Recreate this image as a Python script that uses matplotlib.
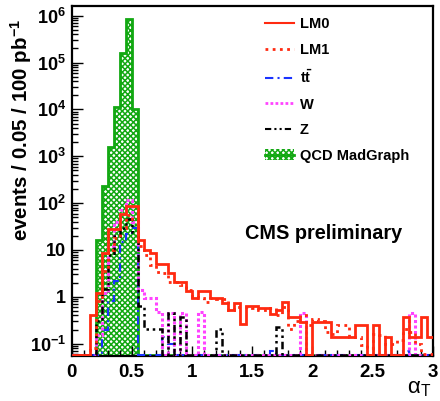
import numpy as np
import matplotlib
matplotlib.use("Agg")
import matplotlib.pyplot as plt
from matplotlib.patches import Patch
from matplotlib.lines import Line2D
from matplotlib.ticker import FixedLocator, MultipleLocator, LogLocator, NullFormatter

plt.rcParams['font.family'] = ['Liberation Sans', 'DejaVu Sans']
plt.rcParams['mathtext.fontset'] = 'custom'
plt.rcParams['mathtext.rm'] = 'Liberation Sans'
plt.rcParams['mathtext.bf'] = 'Liberation Sans:bold'
plt.rcParams['mathtext.it'] = 'Liberation Sans:italic'
plt.rcParams['mathtext.default'] = 'bf'
plt.rcParams['hatch.linewidth'] = 1.1

# ---- data: 60 bins of width 0.05 from 0 to 3 ----
bin_width = 0.05
n_bins = 60

qcd = [0, 0, 0, 0, 16, 230, 1550, 11000, 162000, 870000,
       10000, 0, 0, 0, 0, 0, 0, 0, 0, 0,
       0, 0, 0, 0, 0, 0, 0, 0, 0, 0,
       0, 0, 0, 0, 0, 0, 0, 0, 0, 0,
       0, 0, 0, 0, 0, 0, 0, 0, 0, 0,
       0, 0, 0, 0, 0, 0, 0, 0, 0, 0]

lm0 = [0, 0, 0, 0.4, 1.2, 8.5, 28, 28, 58, 85,
       85, 16, 10, 8.8, 5.0, 5.0, 3.2, 2.1, 2.1, 1.3,
       0.93, 1.3, 1.3, 0.93, 0.93, 0.73, 0.52, 0.73, 0.26, 0.65,
       0.65, 0.57, 0.57, 0.44, 0.52, 0.79, 0.37, 0.37, 0.29, 0,
       0.29, 0.29, 0.29, 0.14, 0.14, 0.14, 0.14, 0.25, 0.25, 0,
       0.25, 0, 0.14, 0, 0, 0.37, 0.14, 0.14, 0.37, 0.14]

lm1 = [0, 0, 0, 0.08, 0.8, 3.5, 10, 18, 30, 55,
       45, 12, 7.8, 4.8, 3.4, 3.2, 2.1, 2.1, 1.8, 1.4,
       1.0, 0.93, 0.79, 0.93, 0.9, 0.88, 0.52, 0.6, 0.62, 0.6,
       0.57, 0.52, 0.52, 0.57, 0.41, 0.62, 0.21, 0.3, 0.41, 0.25,
       0.33, 0.3, 0.18, 0.16, 0.25, 0.25, 0.14, 0.14, 0.093, 0.08,
       0.16, 0.15, 0.1, 0.1, 0.12, 0.21, 0.18, 0.1, 0.06, 0.06]

ttbar = [0, 0, 0, 0, 0, 0.2, 0.8, 2.2, 15, 22,
         30, 0, 0, 0, 0, 0.14, 0.1, 0, 0, 0,
         0, 0, 0, 0, 0, 0, 0, 0, 0, 0,
         0, 0, 0, 0.07, 0, 0, 0, 0, 0, 0,
         0, 0, 0, 0, 0, 0, 0, 0, 0, 0,
         0, 0, 0, 0, 0, 0.07, 0, 0, 0, 0]

wjets = [0, 0, 0, 0, 0.15, 1.2, 12, 40, 71, 117,
         40, 1.4, 0.93, 0.93, 0.48, 0, 0.45, 0, 0.45, 0,
         0, 0.48, 0, 0, 0, 0, 0, 0, 0, 0,
         0, 0, 0, 0, 0, 0, 0, 0, 0.45, 0,
         0, 0, 0, 0, 0, 0, 0, 0, 0, 0,
         0, 0, 0, 0, 0, 0, 0.45, 0, 0, 0]

zjets = [0, 0, 0, 0, 0.3, 1.5, 8, 20, 30, 45,
         24, 0.63, 0.21, 0.21, 0.21, 0, 0.45, 0, 0.37, 0,
         0, 0, 0, 0, 0.21, 0, 0, 0, 0, 0,
         0, 0, 0, 0, 0.23, 0, 0, 0, 0, 0,
         0, 0, 0, 0, 0, 0, 0, 0, 0, 0,
         0, 0, 0, 0, 0, 0, 0, 0, 0, 0]

x_ticks = [0, 0.5, 1, 1.5, 2, 2.5, 3]
x_tick_labels = ['0', '0.5', '1', '1.5', '2', '2.5', '3']
y_ticks = [1e-1, 1, 10, 1e2, 1e3, 1e4, 1e5, 1e6]
y_tick_labels = ['$10^{-1}$', '1', '10', '$10^{2}$', '$10^{3}$', '$10^{4}$', '$10^{5}$', '$10^{6}$']

ymin, ymax = 0.0543, 1.58e6
edges = np.arange(n_bins + 1) * bin_width

def floor(v):
    a = np.asarray(v, dtype=float)
    return np.where(a > 0, a, ymin * 1.03)

fig = plt.figure(figsize=(4.4, 4.01), dpi=100)
ax = fig.add_axes([0.1625, 0.112, 0.8215, 0.872])
ax.set_yscale('log')

green = '#12a812'
ax.stairs(floor(qcd), edges, fill=True, baseline=ymin * 1.03, facecolor='white',
          edgecolor=green, hatch='xxxxxx', linewidth=0, zorder=1)
ax.stairs(floor(qcd), edges, baseline=None, color=green, linewidth=2, zorder=2)

red = '#ff2a10'
ax.stairs(floor(lm0), edges, baseline=None, color=red, linewidth=2, zorder=5)
ax.stairs(floor(lm1), edges, baseline=None, color=red, linewidth=2,
          linestyle=(0, (1, 1.6)), zorder=4)
ax.stairs(floor(ttbar), edges, baseline=None, color='#1a33ff', linewidth=1.5,
          linestyle=(0, (4, 2, 1, 2)), zorder=3)
ax.stairs(floor(wjets), edges, baseline=None, color='#ff44ff', linewidth=2.2,
          linestyle=(0, (1, 0.8)), zorder=3)
ax.stairs(floor(zjets), edges, baseline=None, color='black', linewidth=1.8,
          linestyle=(0, (3, 1.5, 1, 1.5, 1, 1.5)), zorder=3)

ax.set_xlim(0, 3)
ax.set_ylim(ymin, ymax)

ax.xaxis.set_major_locator(FixedLocator(x_ticks))
ax.set_xticklabels(x_tick_labels)
ax.xaxis.set_minor_locator(MultipleLocator(0.1))
ax.yaxis.set_major_locator(FixedLocator(y_ticks))
ax.set_yticklabels(y_tick_labels)
ax.yaxis.set_minor_locator(LogLocator(base=10, subs=np.arange(2, 10)))
ax.yaxis.set_minor_formatter(NullFormatter())

ax.tick_params(axis='both', which='both', direction='in', top=False, right=False)
ax.tick_params(axis='y', which='major', length=8, width=1, labelsize=13, pad=4)
ax.tick_params(axis='y', which='minor', length=4, width=1)
ax.tick_params(axis='x', which='major', length=7, width=1, labelsize=13.5, pad=6)
ax.tick_params(axis='x', which='minor', length=4, width=1)
for lab in ax.get_xticklabels() + ax.get_yticklabels():
    lab.set_fontweight('bold')
for sp in ax.spines.values():
    sp.set_linewidth(1.6)

ax.set_ylabel('events / 0.05 / 100 pb$^{-1}$', fontsize=14.8, fontweight='bold')
ax.yaxis.set_label_coords(-0.103, 0.647)
fig.text(0.953, 0.004, r'$\mathrm{\alpha}_{\mathrm{T}}$', fontsize=16, ha='center',
         va='bottom')

ax.text(0.48, 0.352, 'CMS preliminary', transform=ax.transAxes, fontsize=14.3,
        fontweight='bold', ha='left', va='center')

handles = [
    Line2D([], [], color=red, linewidth=1.5),
    Line2D([], [], color=red, linewidth=2, linestyle=(0, (1, 1.6))),
    Line2D([], [], color='#1a33ff', linewidth=1.5, linestyle=(0, (4, 2, 1, 2))),
    Line2D([], [], color='#ff44ff', linewidth=2, linestyle=(0, (1, 0.8))),
    Line2D([], [], color='black', linewidth=1.5, linestyle=(0, (3, 1.5, 1, 1.5, 1, 1.5))),
    (Patch(facecolor='white', edgecolor=green, hatch='xxxxxx', linewidth=0),
     Line2D([], [], color=green, linewidth=2)),
]
labels = ['LM0', 'LM1', r't$\bar{\mathbf{t}}$', 'W', 'Z', 'QCD MadGraph']
leg = fig.legend(handles, labels, loc='upper left', bbox_to_anchor=(0.585, 0.975),
                 frameon=False, prop={'weight': 'bold', 'size': 10.5},
                 handlelength=2.0, handleheight=0.8, handletextpad=0.4,
                 labelspacing=0.80, borderpad=0)

fig.savefig('out.png', dpi=100)
